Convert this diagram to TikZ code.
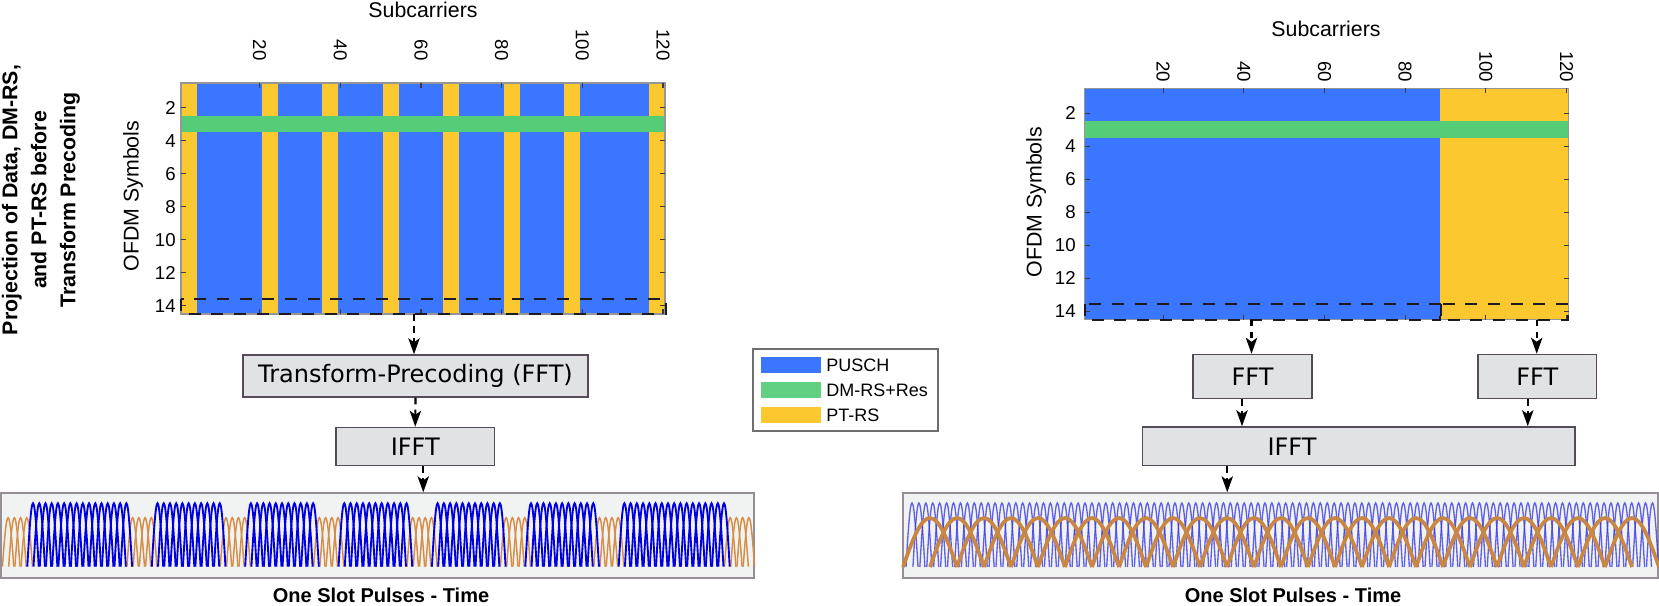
\documentclass[tikz,border=0pt]{standalone}
\usepackage{fontspec}
\setmainfont{Liberation Sans}
\newfontfamily\boxfont{DejaVu Sans}
\usepackage{tikz}
\usetikzlibrary{arrows.meta,calc,positioning}

\definecolor{puschblue}{RGB}{58,118,255}
\definecolor{dmrsgreen}{RGB}{84,204,120}
\definecolor{ptrsyellow}{RGB}{252,200,48}
\definecolor{boxgray}{RGB}{225,226,228}
\definecolor{boxedge}{RGB}{85,75,88}
\definecolor{slotbg}{RGB}{241,243,243}
\definecolor{slotedge}{RGB}{150,142,150}
\definecolor{pulseblue}{RGB}{0,0,225}
\definecolor{pulseblueR}{RGB}{60,60,225}
\definecolor{pulseorange}{RGB}{212,142,72}
\definecolor{pulseorangeR}{RGB}{200,135,68}
\definecolor{axisgray}{RGB}{150,150,150}
\definecolor{tickgray}{RGB}{60,60,60}
\definecolor{selblack}{RGB}{30,25,35}

\tikzset{
  procbox/.style={draw=boxedge,fill=boxgray,line width=1.1pt,inner sep=0pt,
    font=\boxfont\fontsize{18}{20}\selectfont},
  slotbox/.style={draw=slotedge,fill=slotbg,line width=1pt,inner sep=0pt},
  flowarrow/.style={line width=1.6pt,dash pattern=on 5pt off 4pt,
    -{Stealth[length=12pt,width=8.5pt,inset=3pt]}},
  selbox/.style={draw=selblack,line width=1.5pt,dash pattern=on 9pt off 8pt},
  tickmark/.style={draw=tickgray,line width=0.8pt},
  ticklbl/.style={font=\fontsize{14}{16}\selectfont,inner sep=0pt},
  axislbl/.style={font=\fontsize{16}{18}\selectfont,inner sep=0pt},
  legendlbl/.style={font=\fontsize{13.5}{15}\selectfont,inner sep=0pt,anchor=west},
  slotlbl/.style={font=\bfseries\fontsize{15}{17}\selectfont,inner sep=0pt}
}

\begin{document}
\begin{tikzpicture}[x=0.75pt,y=0.75pt,yscale=-1,xscale=1]
\useasboundingbox (0,0) rectangle (1659,606);

% Text Node: side title
\node[align=center,rotate=90,inner sep=0pt,font=\bfseries\fontsize{16}{21.75}\selectfont] (sidettl) at (41,200)
  {Projection of Data, DM-RS,\\and PT-RS before\\Transform Precoding};

%Shape: left resource grid
\fill[puschblue] (181,83) rectangle (665,314);
\foreach \a/\b in {1/4,21/24,36/39,51/54,66/69,81/84,96/99,117/120}
  \fill[ptrsyellow] ({181+(\a-1)*4.0333},83) rectangle ({181+\b*4.0333},314);
\fill[dmrsgreen] (181,116) rectangle (665,132.5);
\draw[axisgray,line width=0.8pt] (181,83) rectangle (665,314);
\foreach \r in {2,4,...,14} {
  \draw[tickmark] (181,{83+(\r-0.5)*16.5}) -- ++(5,0);
  \draw[tickmark] (665,{83+(\r-0.5)*16.5}) -- ++(-5,0);
  \node[ticklbl,anchor=east] (ly\r) at (176,{83+(\r-0.5)*16.5}) {\r};
}
\foreach \c in {20,40,...,120} {
  \draw[tickmark] ({181+(\c-0.5)*4.0333},83) -- ++(0,5);
  \draw[tickmark] ({181+(\c-0.5)*4.0333},314) -- ++(0,-5);
  \node[ticklbl,rotate=-90,anchor=east] (lx\c) at ({181+(\c-0.5)*4.0333},61) {\c};
}
\node[axislbl] (subcL) at (423,10) {Subcarriers};
\node[axislbl,rotate=90] (symL) at (133,196) {OFDM Symbols};
\draw[selbox] (181,299) rectangle (666,314);

%Shape: right resource grid
\fill[puschblue] (1084.5,88.5) rectangle (1568.5,319.5);
\fill[ptrsyellow] (1439.5,88.5) rectangle (1568.5,319.5);
\fill[dmrsgreen] (1084.5,121.5) rectangle (1568.5,138);
\draw[axisgray,line width=0.8pt] (1084.5,88.5) rectangle (1568.5,319.5);
\foreach \r in {2,4,...,14} {
  \draw[tickmark] (1084.5,{88.5+(\r-0.5)*16.5}) -- ++(5,0);
  \draw[tickmark] (1568.5,{88.5+(\r-0.5)*16.5}) -- ++(-5,0);
  \node[ticklbl,anchor=east] (ry\r) at (1076,{88.5+(\r-0.5)*16.5}) {\r};
}
\foreach \c in {20,40,...,120} {
  \draw[tickmark] ({1084.5+(\c-0.5)*4.0333},88.5) -- ++(0,5);
  \draw[tickmark] ({1084.5+(\c-0.5)*4.0333},319.5) -- ++(0,-5);
  \node[ticklbl,rotate=-90,anchor=east] (rx\c) at ({1084.5+(\c-0.5)*4.0333},82.5) {\c};
}
\node[axislbl] (subcR) at (1326,29) {Subcarriers};
\node[axislbl,rotate=90] (symR) at (1036,202) {OFDM Symbols};
\draw[selbox] (1084.5,304) rectangle (1440,319.5);
\draw[selbox] (1440.5,304) rectangle (1568,319.5);

% processing blocks
\node[procbox,minimum width=258.75pt,minimum height=31.5pt] (tpfft) at (415.5,376) {Transform-Precoding (FFT)};
\node[procbox,minimum width=118.9pt,minimum height=28.5pt] (ifftL) at (415.25,446.5) {IFFT};
\node[procbox,minimum width=89.25pt,minimum height=33pt] (fftA) at (1252.5,376.5) {FFT};
\node[procbox,minimum width=88.9pt,minimum height=33pt] (fftB) at (1537.25,376.5) {FFT};
\node[procbox,minimum width=324.4pt,minimum height=28.9pt] (ifftR) at (1358.75,446.25) {};
\node[inner sep=0pt,font=\boxfont\fontsize{18}{20}\selectfont] (ifftRlbl) at (1292,446.25) {IFFT};

% legend
\node[draw={rgb,255:red,110;green,110;blue,110},fill=white,line width=1.1pt,minimum width=138.75pt,minimum height=61.5pt,inner sep=0pt] (lgnd) at (845.5,390) {};
\fill[puschblue] (761,357) rectangle (821,373);
\fill[dmrsgreen!92!white] (761,382) rectangle (821,398);
\fill[ptrsyellow] (761,407) rectangle (821,423);
\node[legendlbl] (lgA) at (826,365) {PUSCH};
\node[legendlbl] (lgB) at (826,390) {DM-RS+Res};
\node[legendlbl] (lgC) at (826,415) {PT-RS};

% pulse panels
\node[slotbox,minimum width=564.75pt,minimum height=63.75pt] (pulsesL) at (377.5,535.5) {};
\node[slotbox,minimum width=566.25pt,minimum height=63.75pt] (pulsesR) at (1280.5,535.5) {};
\foreach \a/\b in {1/4,21/24,36/39,51/54,66/69,81/84,96/99,117/120}
  \foreach \k in {\a,...,\b} {
    \pgfmathsetmacro\cx{5+(\k-0.5)*6.225}
    \draw[pulseorange,line width=1.1pt] ({\cx-5.7},566.7) sin (\cx,517.7) cos ({\cx+5.7},566.7);
  }
\foreach \a/\b in {5/20,25/35,40/50,55/65,70/80,85/95,100/116}
  \foreach \k in {\a,...,\b} {
    \pgfmathsetmacro\cx{5+(\k-0.5)*6.225}
    \draw[pulseblue,line width=1.4pt] ({\cx-5.7},566.7) sin (\cx,503.3) cos ({\cx+5.7},566.7);
  }
\foreach \k in {0,...,107} {
  \pgfmathsetmacro\cx{912+\k*6.92}
  \draw[pulseblueR,line width=1pt,opacity=0.8] ({\cx-6},567) sin (\cx,503) cos ({\cx+6},567);
}
\foreach \k in {0,...,26} {
  \pgfmathsetmacro\cx{930+\k*27}
  \draw[pulseorangeR,line width=2.8pt] ({\cx-27},567) sin (\cx,518) cos ({\cx+27},567);
}
\node[slotlbl] (slotL) at (381,595.5) {One Slot Pulses - Time};
\node[slotlbl] (slotR) at (1293,595.5) {One Slot Pulses - Time};

% connectors
\coordinate (selL) at (414,314);
\draw[flowarrow] (selL) -- (selL |- tpfft.north);
\draw[flowarrow] (tpfft.south) -- (ifftL.north);
\coordinate (dropL) at ($(ifftL.south)+(8,0)$);
\draw[flowarrow] (dropL) -- (dropL |- pulsesL.north);
\coordinate (selRa) at (1251.5,319.5);
\coordinate (selRb) at (1536.7,319.5);
\draw[flowarrow] (selRa) -- (selRa |- fftA.north);
\draw[flowarrow] (selRb) -- (selRb |- fftB.north);
\coordinate (outA) at ($(fftA.south)+(-10.5,0)$);
\coordinate (outB) at ($(fftB.south)+(-9.5,0)$);
\draw[flowarrow] (outA) -- (outA |- ifftR.north);
\draw[flowarrow] (outB) -- (outB |- ifftR.north);
\coordinate (dropR) at ($(ifftR.south west)+(85.5,0)$);
\draw[flowarrow] (dropR) -- (dropR |- pulsesR.north);
\end{tikzpicture}
\end{document}
